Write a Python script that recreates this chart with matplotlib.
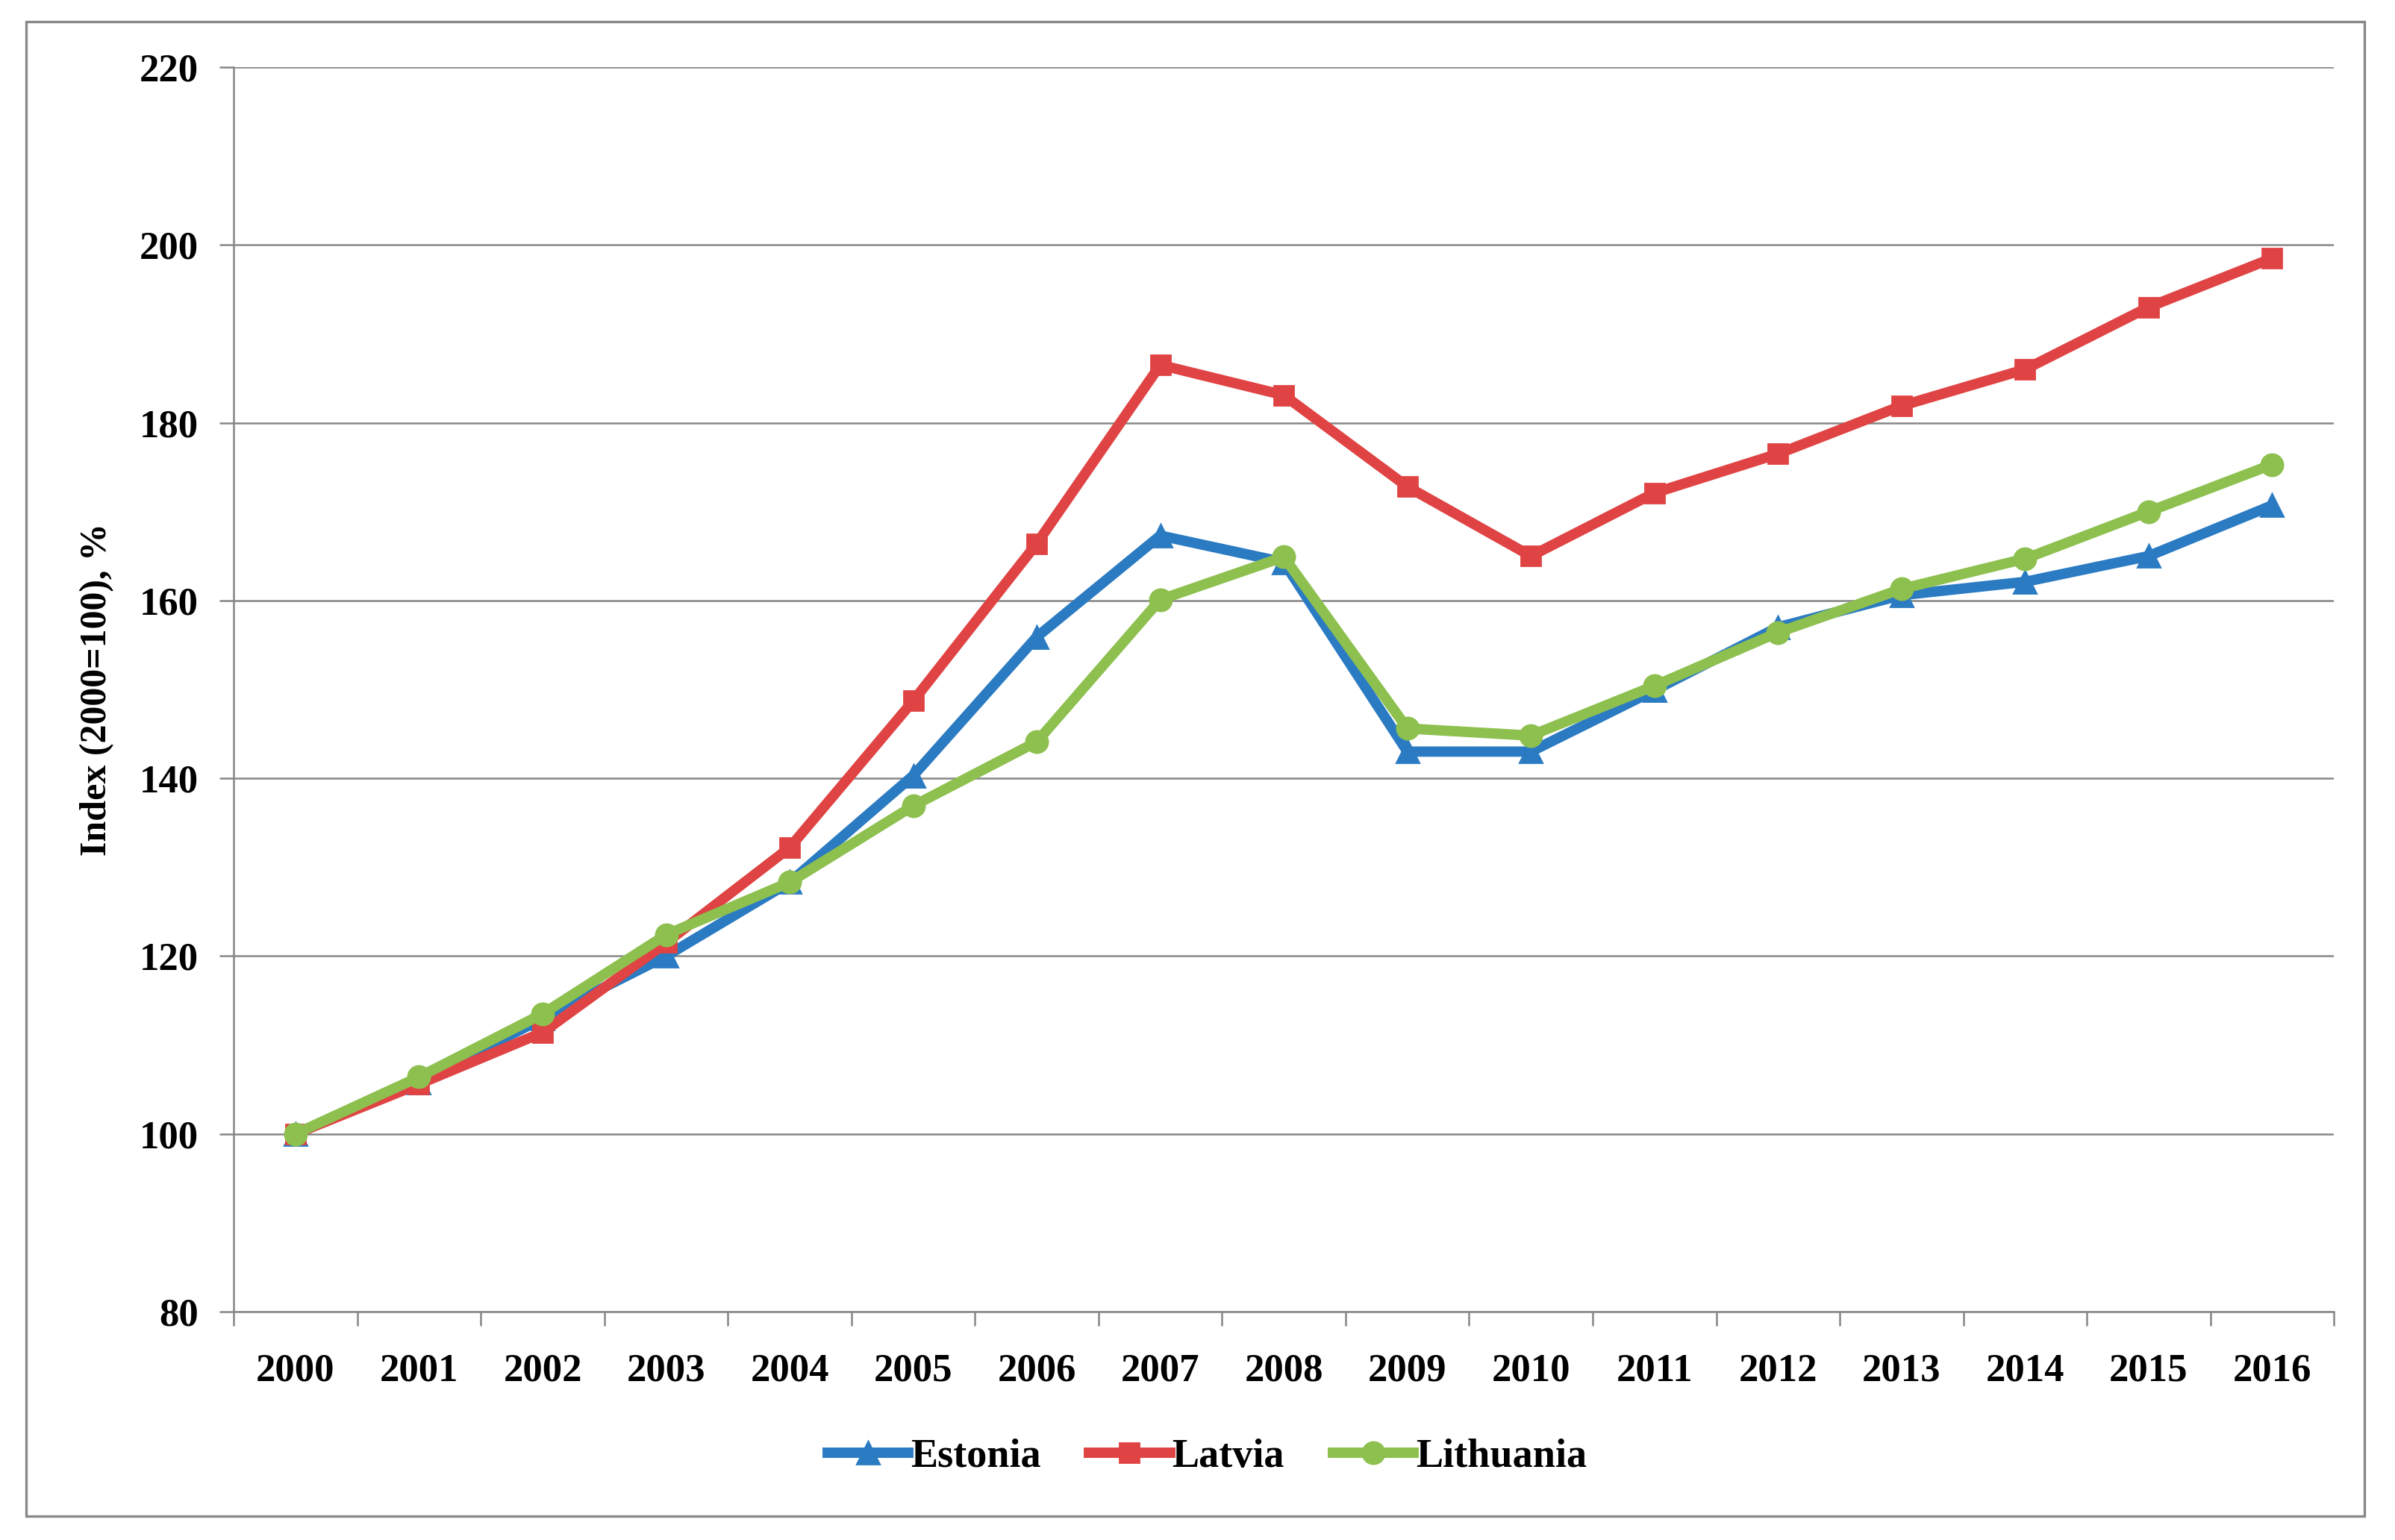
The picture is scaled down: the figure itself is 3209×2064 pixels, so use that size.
import matplotlib
matplotlib.use("Agg")
import matplotlib.pyplot as plt
from matplotlib.patches import Rectangle

years = [str(y) for y in range(2000, 2017)]
estonia = [100, 105.8, 113.0, 120.0, 128.3, 140.3, 155.9, 167.3, 164.3, 143.0, 143.0, 149.9, 157.0, 160.6, 162.1, 165.0, 170.7]
latvia = [100, 105.6, 111.4, 121.5, 132.2, 148.7, 166.4, 186.5, 183.1, 172.8, 165.0, 172.1, 176.5, 181.9, 186.0, 193.0, 198.5]
lithuania = [100, 106.4, 113.5, 122.4, 128.3, 136.9, 144.1, 160.1, 164.9, 145.6, 144.8, 150.4, 156.4, 161.3, 164.7, 170.0, 175.3]
yticks = [80, 100, 120, 140, 160, 180, 200, 220]

plt.rcParams['font.family'] = ['Liberation Serif', 'DejaVu Serif']
plt.rcParams['font.weight'] = 'bold'

fig = plt.figure(figsize=(16.045, 10.32), dpi=200)
ax = fig.add_axes([0.0976, 0.1483, 0.8769, 0.8081])

grid_c = '#868686'
x = list(range(len(years)))
ax.plot(x, estonia, color='#2b7bc3', lw=5, marker='^', ms=11, label='Estonia', zorder=3)
ax.plot(x, latvia, color='#e04343', lw=5, marker='s', ms=9.5, label='Latvia', zorder=3)
ax.plot(x, lithuania, color='#8dc04e', lw=5, marker='o', ms=10.5, label='Lithuania', zorder=3)

ax.set_xlim(-0.5, len(years) - 0.5)
ax.set_ylim(80, 220)
ax.set_yticks(yticks)
ax.set_yticklabels([str(v) for v in yticks])
ax.set_xticks(x)
ax.set_xticklabels(years)
ax.set_xticks([i - 0.5 for i in range(len(years) + 1)], minor=True)

ax.yaxis.grid(True, color=grid_c, lw=0.9)
ax.set_axisbelow(True)
for s in ['top', 'right']:
    ax.spines[s].set_visible(False)
for s in ['left', 'bottom']:
    ax.spines[s].set_color(grid_c)
    ax.spines[s].set_linewidth(0.9)

ax.tick_params(axis='y', which='major', length=7, width=0.9, color=grid_c, pad=10, labelsize=19)
ax.tick_params(axis='x', which='major', length=0, pad=20, labelsize=19)
ax.tick_params(axis='x', which='minor', length=7, width=0.9, color=grid_c)
for lab in ax.get_xticklabels() + ax.get_yticklabels():
    lab.set_fontweight('bold')

ax.set_ylabel('Index (2000=100), %', fontsize=18, fontweight='bold', labelpad=12)

leg = fig.legend(loc='center', bbox_to_anchor=(0.504, 0.054), ncol=3, frameon=False,
                 handlelength=2.0, handletextpad=0.05, columnspacing=1.2,
                 prop={'weight': 'bold', 'size': 19.5})

fig.patches.append(Rectangle((35 / 3209, 1 - 2032 / 2064), (3168 - 35) / 3209, (2032 - 29) / 2064,
                             transform=fig.transFigure, fill=False, edgecolor='#888888', lw=1.2))

fig.savefig('out.png', dpi=200, facecolor='white')
